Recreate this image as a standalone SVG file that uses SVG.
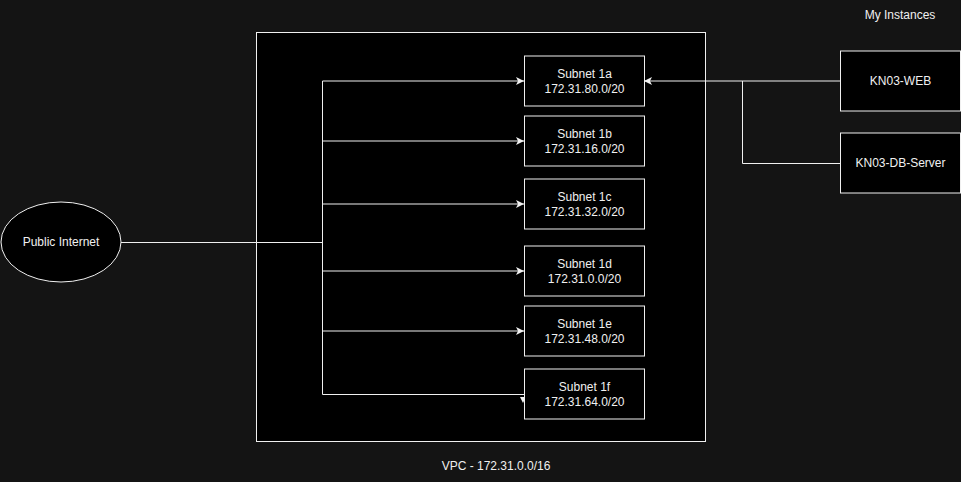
<svg xmlns="http://www.w3.org/2000/svg" width="961" height="482" viewBox="0 0 961 482">
<defs>
<marker id="arr" markerWidth="10" markerHeight="10" refX="8" refY="4" orient="auto" markerUnits="userSpaceOnUse">
<path d="M0,0 L8,4 L0,8 L2,4 Z" fill="#f0f0f0"/>
</marker>
<style>
.box{fill:#000;stroke:#f0f0f0;stroke-width:1}
.ln{fill:none;stroke:#f0f0f0;stroke-width:1}
text{font-family:"Liberation Sans",Arial,sans-serif;font-size:12px;fill:#f0f0f0;text-anchor:middle}
</style>
</defs>
<rect x="0" y="0" width="961" height="482" fill="#141414"/>
<g id="vpc">
<rect class="box" x="256.5" y="32.5" width="449" height="409"/>
<text x="496" y="470">VPC - 172.31.0.0/16</text>
</g>
<text x="900" y="19">My Instances</text>
<g id="connectors">
<path class="ln" d="M121,242.5 H322.5"/>
<path class="ln" d="M322.5,81 V394.5 H524"/>
<path class="ln" d="M322.5,81 H524" marker-end="url(#arr)"/>
<path class="ln" d="M322.5,141 H524" marker-end="url(#arr)"/>
<path class="ln" d="M322.5,204 H524" marker-end="url(#arr)"/>
<path class="ln" d="M322.5,271 H524" marker-end="url(#arr)"/>
<path class="ln" d="M322.5,331 H524" marker-end="url(#arr)"/>
<path d="M520,397 L526,397 L523,403 Z" fill="#f0f0f0"/>
<path class="ln" d="M840,81 H644" marker-end="url(#arr)"/>
<path class="ln" d="M840,163.5 H742.5 V81"/>
</g>
<g id="public-internet">
<ellipse class="box" cx="61" cy="242" rx="60" ry="40"/>
<text x="61" y="246">Public Internet</text>
</g>
<g id="subnet-1a">
<rect class="box" x="524.5" y="56" width="120" height="50"/>
<text x="584.5" y="78">Subnet 1a</text>
<text x="584.5" y="93">172.31.80.0/20</text>
</g>
<g id="subnet-1b">
<rect class="box" x="524.5" y="116" width="120" height="50"/>
<text x="584.5" y="138">Subnet 1b</text>
<text x="584.5" y="153">172.31.16.0/20</text>
</g>
<g id="subnet-1c">
<rect class="box" x="524.5" y="179" width="120" height="50"/>
<text x="584.5" y="201">Subnet 1c</text>
<text x="584.5" y="216">172.31.32.0/20</text>
</g>
<g id="subnet-1d">
<rect class="box" x="524.5" y="246" width="120" height="50"/>
<text x="584.5" y="268">Subnet 1d</text>
<text x="584.5" y="283">172.31.0.0/20</text>
</g>
<g id="subnet-1e">
<rect class="box" x="524.5" y="306" width="120" height="50"/>
<text x="584.5" y="328">Subnet 1e</text>
<text x="584.5" y="343">172.31.48.0/20</text>
</g>
<g id="subnet-1f">
<rect class="box" x="524.5" y="369" width="120" height="50"/>
<text x="584.5" y="391">Subnet 1f</text>
<text x="584.5" y="406">172.31.64.0/20</text>
</g>
<g id="kn03-web">
<rect class="box" x="840.5" y="51" width="120" height="60"/>
<text x="900.5" y="85">KN03-WEB</text>
</g>
<g id="kn03-db-server">
<rect class="box" x="840.5" y="133" width="120" height="60"/>
<text x="900.5" y="167">KN03-DB-Server</text>
</g>
</svg>
